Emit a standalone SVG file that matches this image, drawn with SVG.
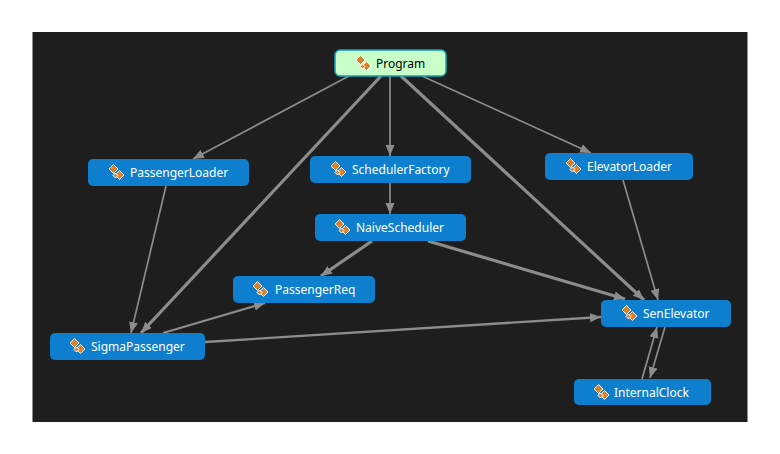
<svg xmlns="http://www.w3.org/2000/svg" width="780" height="454" viewBox="0 0 780 454">
<style>
.n{fill:#0e7fce}
.t{font-family:"Noto Sans","Open Sans",sans-serif;font-size:12px;fill:#fff;dominant-baseline:central}
.l{fill:none;stroke:#8c8c8c;stroke-width:1.7}
.h{stroke-width:3.2}
.m{stroke-width:2.3}
.a{fill:#8c8c8c}
.i1{fill:#d9822b;stroke:#fff;stroke-width:1}
</style>
<defs>
<marker id="ar" markerUnits="userSpaceOnUse" markerWidth="12" markerHeight="10" refX="11" refY="4.5" orient="auto"><path d="M0 0L11 4.5L0 9Z" class="a"/></marker>
<g id="ico"><path class="i1" d="M-8-3L-3.500-7.500L1-3L-3.500 1.500Z"/><path class="i1" d="M-2 3L2.500-1.500L7 3L2.500 7.500Z"/><path class="i1" d="M-4 3.500L-1.500 1L1 3.500L-1.500 6Z"/></g>
</defs>
<rect width="780" height="454" fill="#fff"/>
<rect x="32.500" y="32" width="715" height="390" fill="#1e1e1e"/>
<g id="connectors">
<path class="l" marker-end="url(#ar)" d="M349 76L193 159"/>
<path class="l" marker-end="url(#ar)" d="M390 76V156"/>
<path class="l" marker-end="url(#ar)" d="M422 76L591 153"/>
<path class="l h" marker-end="url(#ar)" d="M381 76L141 333"/>
<path class="l h" marker-end="url(#ar)" d="M401 76L644 300"/>
<path class="l" marker-end="url(#ar)" d="M166 186L131 333"/>
<path class="l" marker-end="url(#ar)" d="M390 183V214"/>
<path class="l h" marker-end="url(#ar)" d="M372 241L321 276"/>
<path class="l h" marker-end="url(#ar)" d="M428 241L625 299"/>
<path class="l m" marker-end="url(#ar)" d="M163 333L265 303"/>
<path class="l m" marker-end="url(#ar)" d="M205 342L601 317"/>
<path class="l" marker-end="url(#ar)" d="M623 180L658 300"/>
<path class="l" marker-end="url(#ar)" d="M642 379L657 327"/>
<path class="l" marker-end="url(#ar)" d="M665 327L650 378"/>
</g>
<g id="Program"><rect x="335" y="50" width="111" height="26" rx="5" fill="#c8ffc8" stroke="#17a2b8" stroke-width="1.500"/><use href="#ico" x="364" y="63"/><text class="t" x="376" y="63" style="fill:#000">Program</text></g>
<g id="PassengerLoader"><rect class="n" x="88" y="159" width="161" height="27" rx="5"/><use href="#ico" x="117" y="172"/><text class="t" x="130" y="172.500">PassengerLoader</text></g>
<g id="SchedulerFactory"><rect class="n" x="310" y="156" width="161" height="27" rx="5"/><use href="#ico" x="339" y="169"/><text class="t" x="352" y="169.500">SchedulerFactory</text></g>
<g id="ElevatorLoader"><rect class="n" x="545" y="153" width="148" height="27" rx="5"/><use href="#ico" x="574" y="166"/><text class="t" x="587" y="166.500">ElevatorLoader</text></g>
<g id="NaiveScheduler"><rect class="n" x="315" y="214" width="151" height="27" rx="5"/><use href="#ico" x="343" y="227"/><text class="t" x="356" y="227.500">NaiveScheduler</text></g>
<g id="PassengerReq"><rect class="n" x="233" y="276" width="142" height="27" rx="5"/><use href="#ico" x="261" y="289"/><text class="t" x="275" y="289.500">PassengerReq</text></g>
<g id="SigmaPassenger"><rect class="n" x="50" y="333" width="155" height="27" rx="5"/><use href="#ico" x="78" y="346"/><text class="t" x="91" y="346.500">SigmaPassenger</text></g>
<g id="SenElevator"><rect class="n" x="601" y="300" width="130" height="27" rx="5"/><use href="#ico" x="630" y="313"/><text class="t" x="643" y="313">SenElevator</text></g>
<g id="InternalClock"><rect class="n" x="574" y="379" width="137" height="26" rx="5"/><use href="#ico" x="602" y="392"/><text class="t" x="614" y="392">InternalClock</text></g>
</svg>
